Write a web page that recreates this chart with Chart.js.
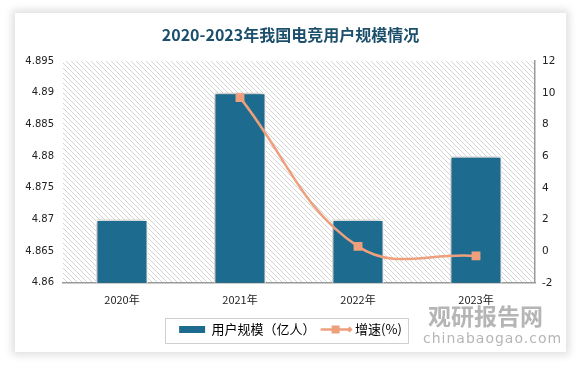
<!DOCTYPE html>
<html><head><meta charset="utf-8">
<script src="https://cdn.jsdelivr.net/npm/chart.js@4/dist/chart.umd.min.js"></script>
<style>
html,body{margin:0;padding:0;background:#fff;width:582px;height:366px;overflow:hidden;}
#card{position:absolute;left:15px;top:13px;width:551px;height:339px;background:#fff;box-shadow:0 0 8px 3px rgba(0,0,0,0.13);}
#wrap{position:absolute;left:0;top:0;width:582px;height:366px;}
</style></head><body>
<div id="card"></div>
<div id="wrap"><canvas id="c" width="582" height="366"></canvas></div>
<script>
const categories = ['2020年','2021年','2022年','2023年'];
const users = [4.87, 4.89, 4.87, 4.88];
const growth = [null, 9.7, 0.3, -0.3];
const leftTicks = [4.86,4.865,4.87,4.875,4.88,4.885,4.89,4.895];
const rightTicks = [-2,0,2,4,6,8,10,12];

const BAR = '#1d6c8f', LINE = '#eea07c';
const CJK = '"Noto Sans CJK SC", "Noto Sans", sans-serif';
const NUM = '"DejaVu Sans", "Liberation Sans", sans-serif';

function hatch(){
  const p=document.createElement('canvas');p.width=5;p.height=5;
  const g=p.getContext('2d');g.fillStyle='#fff';g.fillRect(0,0,5,5);
  g.strokeStyle='#d4d4d4';g.lineWidth=1;
  g.beginPath();g.moveTo(-1,-1);g.lineTo(6,6);g.moveTo(-1,4);g.lineTo(1,6);g.moveTo(4,-1);g.lineTo(6,1);g.stroke();
  return p;
}
const bgPlugin={id:'bg',beforeDraw(ch){const a=ch.chartArea,ctx=ch.ctx;ctx.save();ctx.fillStyle=ctx.createPattern(hatch(),'repeat');ctx.fillRect(a.left,a.top,a.right-a.left,a.bottom-a.top);ctx.restore();}};
const shadowPlugin={id:'sh',
  beforeDatasetDraw(ch,args){if(args.index===0){const c=ch.ctx;c.save();c.shadowColor='rgba(0,0,0,0.45)';c.shadowBlur=5;c.shadowOffsetX=-1;c.shadowOffsetY=0;}},
  afterDatasetDraw(ch,args){if(args.index===0){ch.ctx.restore();}}};
const legendPlugin={id:'lg',afterDraw(ch){
  const L=ch.legend;if(!L||!L.legendHitBoxes)return;const ctx=ch.ctx;const hb=L.legendHitBoxes;
  ctx.save();
  const b=hb[1];const cy=b.top+b.height/2;const x0=b.left, w=26;
  ctx.strokeStyle=LINE;ctx.lineWidth=2.5;ctx.beginPath();ctx.moveTo(x0-2,cy);ctx.lineTo(x0+w+2,cy);ctx.stroke();
  ctx.fillStyle=LINE;ctx.fillRect(x0+w/2-4,cy-4,8,8);
  ctx.beginPath();ctx.moveTo(x0+w+4,cy);ctx.lineTo(x0+w+1,cy-3);ctx.lineTo(x0+w-2,cy);ctx.lineTo(x0+w+1,cy+3);ctx.closePath();ctx.fill();
  const l=Math.min(...hb.map(h=>h.left))-14, r=Math.max(...hb.map(h=>h.left+h.width))+6;
  ctx.strokeStyle='#d0d0d0';ctx.lineWidth=1;ctx.strokeRect(Math.round(l)+0.5,Math.round(hb[0].top-5)+0.5,Math.round(r-l),25);
  ctx.fillStyle='rgba(120,120,120,0.55)';
  ctx.font='bold 23px '+CJK;ctx.textBaseline='alphabetic';ctx.fillText('观研报告网',428,325);
  ctx.font='14px '+NUM;
  if('letterSpacing' in ctx) ctx.letterSpacing='1px';
  ctx.fillText('chinabaogao.com',423,343);
  ctx.restore();
}};

new Chart(document.getElementById('c'),{
  data:{labels:categories,datasets:[
    {type:'bar',label:'用户规模（亿人）',data:users,backgroundColor:BAR,borderColor:'#ffffff',borderWidth:1.5,yAxisID:'y',barPercentage:0.88,categoryPercentage:0.5,order:2},
    {type:'line',label:'增速(%)',data:growth,borderColor:LINE,backgroundColor:LINE,borderWidth:2.5,pointStyle:'rect',pointRadius:4.5,pointBackgroundColor:LINE,pointBorderColor:LINE,tension:0.4,yAxisID:'y1',order:1}
  ]},
  options:{responsive:false,animation:false,devicePixelRatio:1,
    layout:{padding:{left:15,right:16,top:13,bottom:20}},
    plugins:{
      title:{display:true,text:'2020-2023年我国电竞用户规模情况',color:'#1b4f6b',font:{family:CJK,size:16,weight:'bold'},padding:{top:12,bottom:17}},
      legend:{position:'bottom',labels:{color:'#222',font:{family:CJK,size:13},boxWidth:26,boxHeight:7,padding:7,
        generateLabels(ch){return ch.data.datasets.map((d,i)=>({text:d.label,fillStyle:i===0?BAR:'rgba(0,0,0,0)',strokeStyle:'rgba(0,0,0,0)',lineWidth:0,datasetIndex:i}));}}},
      tooltip:{enabled:false}
    },
    scales:{
      x:{grid:{display:false,drawTicks:false},border:{display:true,color:'#999',width:1.5},ticks:{color:'#222',font:{family:CJK,size:11},padding:10}},
      y:{position:'left',min:4.86,max:4.895,afterBuildTicks(s){s.ticks=leftTicks.map(v=>({value:v}));},
        afterFit(s){s.width=48;},grid:{display:false,drawTicks:false},border:{display:false},
        ticks:{color:'#222',font:{family:NUM,size:10},padding:9,crossAlign:'near',callback:v=>String(+v.toFixed(3))}},
      y1:{position:'right',min:-2,max:12,afterBuildTicks(s){s.ticks=rightTicks.map(v=>({value:v}));},
        afterFit(s){s.width=31;},grid:{display:false,drawOnChartArea:false,drawTicks:true,tickLength:4,color:'#999'},border:{display:true,color:'#999',width:1.5},
        ticks:{color:'#222',font:{family:NUM,size:10.5},padding:3}}
    }
  },
  plugins:[bgPlugin,shadowPlugin,legendPlugin]
});
</script>
</body></html>
